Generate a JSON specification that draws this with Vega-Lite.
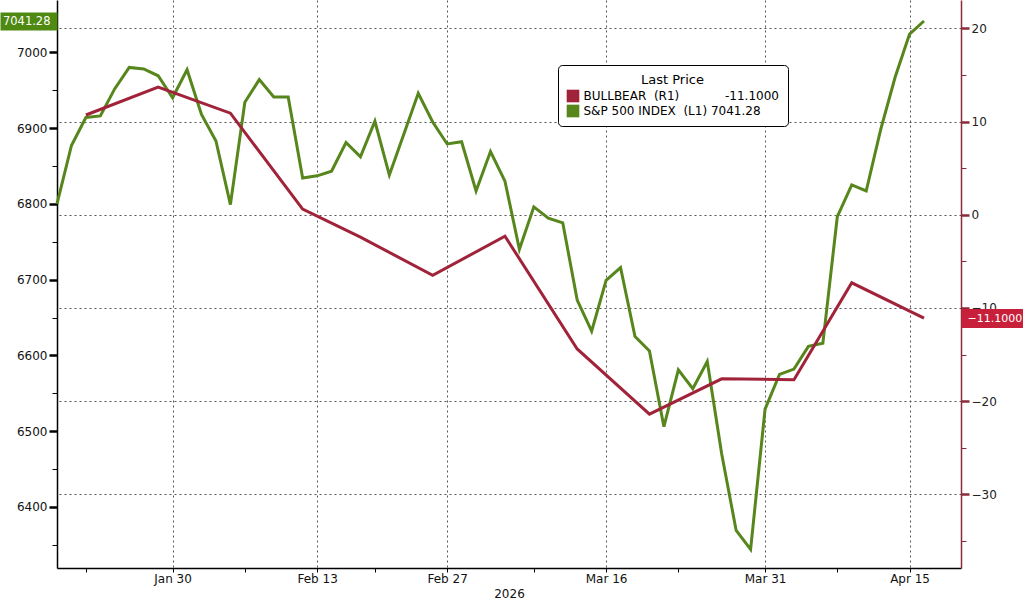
{
  "$schema": "https://vega.github.io/schema/vega-lite/v6.json",
  "width": 904,
  "height": 568,
  "autosize": {"type": "none"},
  "padding": {"left": 57, "top": 0, "right": 62, "bottom": 34},
  "background": "white",
  "config": {
    "view": {"stroke": null},
    "font": "DejaVu Sans",
    "axis": {"labelFont": "DejaVu Sans", "labelFontSize": 12, "titleFont": "DejaVu Sans", "labelOverlap": false, "labelBound": false}
  },
  "datasets": {
    "spx": [
      {"date": "2026-01-20", "close": 6800},
      {"date": "2026-01-21", "close": 6877},
      {"date": "2026-01-22", "close": 6914},
      {"date": "2026-01-23", "close": 6916},
      {"date": "2026-01-26", "close": 6952},
      {"date": "2026-01-27", "close": 6980},
      {"date": "2026-01-28", "close": 6978},
      {"date": "2026-01-29", "close": 6969},
      {"date": "2026-01-30", "close": 6940},
      {"date": "2026-02-02", "close": 6977},
      {"date": "2026-02-03", "close": 6918},
      {"date": "2026-02-04", "close": 6883},
      {"date": "2026-02-05", "close": 6799},
      {"date": "2026-02-06", "close": 6934},
      {"date": "2026-02-09", "close": 6964},
      {"date": "2026-02-10", "close": 6941},
      {"date": "2026-02-11", "close": 6941},
      {"date": "2026-02-12", "close": 6834},
      {"date": "2026-02-13", "close": 6837},
      {"date": "2026-02-17", "close": 6843},
      {"date": "2026-02-18", "close": 6881},
      {"date": "2026-02-19", "close": 6862},
      {"date": "2026-02-20", "close": 6909},
      {"date": "2026-02-23", "close": 6838},
      {"date": "2026-02-24", "close": 6892},
      {"date": "2026-02-25", "close": 6946},
      {"date": "2026-02-26", "close": 6908},
      {"date": "2026-02-27", "close": 6879},
      {"date": "2026-03-02", "close": 6882},
      {"date": "2026-03-03", "close": 6817},
      {"date": "2026-03-04", "close": 6869},
      {"date": "2026-03-05", "close": 6830},
      {"date": "2026-03-06", "close": 6740},
      {"date": "2026-03-09", "close": 6796},
      {"date": "2026-03-10", "close": 6781},
      {"date": "2026-03-11", "close": 6775},
      {"date": "2026-03-12", "close": 6673},
      {"date": "2026-03-13", "close": 6632},
      {"date": "2026-03-16", "close": 6699},
      {"date": "2026-03-17", "close": 6716},
      {"date": "2026-03-18", "close": 6625},
      {"date": "2026-03-19", "close": 6606},
      {"date": "2026-03-20", "close": 6506},
      {"date": "2026-03-23", "close": 6581},
      {"date": "2026-03-24", "close": 6556},
      {"date": "2026-03-25", "close": 6592},
      {"date": "2026-03-26", "close": 6470},
      {"date": "2026-03-27", "close": 6369},
      {"date": "2026-03-30", "close": 6344},
      {"date": "2026-03-31", "close": 6529},
      {"date": "2026-04-01", "close": 6575},
      {"date": "2026-04-02", "close": 6582},
      {"date": "2026-04-06", "close": 6612},
      {"date": "2026-04-07", "close": 6616},
      {"date": "2026-04-08", "close": 6783},
      {"date": "2026-04-09", "close": 6825},
      {"date": "2026-04-10", "close": 6817},
      {"date": "2026-04-13", "close": 6898},
      {"date": "2026-04-14", "close": 6967},
      {"date": "2026-04-15", "close": 7024},
      {"date": "2026-04-16", "close": 7041.28}
    ],
    "bull": [
      {"date": "2026-01-22", "spread": 10.7},
      {"date": "2026-01-29", "spread": 13.7},
      {"date": "2026-02-05", "spread": 10.9},
      {"date": "2026-02-12", "spread": 0.6},
      {"date": "2026-02-19", "spread": -2.4},
      {"date": "2026-02-26", "spread": -6.5},
      {"date": "2026-03-05", "spread": -2.3},
      {"date": "2026-03-12", "spread": -14.4},
      {"date": "2026-03-19", "spread": -21.4},
      {"date": "2026-03-26", "spread": -17.6},
      {"date": "2026-04-02", "spread": -17.7},
      {"date": "2026-04-09", "spread": -7.3},
      {"date": "2026-04-16", "spread": -11.1}
    ]
  },
  "encoding": {
    "x": {
      "field": "date",
      "type": "ordinal",
      "scale": {"type": "point", "domain": {"unionWith": ["2026-04-17"]}, "padding": 0.78, "align": 0},
      "axis": {
        "title": "2026",
        "titleFontSize": 12,
        "titleFontWeight": "normal",
        "titleColor": "#111",
        "titlePadding": 4,
        "values": ["2026-01-22", "2026-01-30", "2026-02-06", "2026-02-13", "2026-02-20", "2026-02-27", "2026-03-09", "2026-03-16", "2026-03-23", "2026-03-31", "2026-04-08", "2026-04-15"],
        "labelExpr": "indexof(['2026-01-30','2026-02-13','2026-02-27','2026-03-16','2026-03-31','2026-04-15'], datum.value) >= 0 ? utcFormat(toDate(datum.value), '%b %d') : ''",
        "labelAngle": 0,
        "labelColor": "#111",
        "labelPadding": 1,
        "domainColor": "#000",
        "domainWidth": 1.5,
        "tickColor": "#000",
        "tickSize": 4,
        "grid": true,
        "gridColor": "#555",
        "gridDash": [2, 3],
        "gridOpacity": {"condition": {"test": "indexof(['2026-01-30','2026-02-13','2026-02-27','2026-03-16','2026-03-31','2026-04-15'], datum.value) >= 0", "value": 1}, "value": 0}
      }
    }
  },
  "layer": [
    {
      "data": {"name": "spx"},
      "mark": {"type": "line", "strokeWidth": 3},
      "encoding": {
        "y": {
          "field": "close",
          "type": "quantitative",
          "scale": {"domain": [6319.5, 7069], "nice": false, "zero": false},
          "axis": {
            "orient": "left",
            "title": null,
            "values": [6350, 6400, 6450, 6500, 6550, 6600, 6650, 6700, 6750, 6800, 6850, 6900, 6950, 7000, 7050],
            "format": "d",
            "labelExpr": "datum.value % 100 === 0 ? datum.label : ''",
            "labelColor": "#111",
            "labelPadding": 2,
            "grid": false,
            "domainColor": "#000",
            "domainWidth": 1.5,
            "tickColor": "#000",
            "tickSize": {"condition": {"test": "datum.value % 100 === 0", "value": 8}, "value": 5},
            "tickWidth": {"condition": {"test": "datum.value % 100 === 0", "value": 2.5}, "value": 1}
          }
        },
        "color": {
          "datum": "S&P 500 INDEX (L1)",
          "scale": {"domain": ["BULLBEAR (R1)", "S&P 500 INDEX (L1)"], "range": ["#a02339", "#56861c"]},
          "legend": {
            "orient": "none",
            "legendX": 501,
            "legendY": 65,
            "title": "Last Price",
            "titleAnchor": "middle",
            "titleFontWeight": "normal",
            "titleFontSize": 13,
            "titleColor": "#000",
            "titlePadding": 3,
            "padding": 8.5,
            "fillColor": "white",
            "strokeColor": "#000",
            "cornerRadius": 4,
            "symbolType": "square",
            "symbolSize": 160,
            "symbolStrokeWidth": 0,
            "labelFontSize": 12,
            "labelColor": "#000",
            "labelLimit": 400,
            "labelOffset": 4,
            "rowPadding": 2,
            "labelExpr": "datum.label == 'BULLBEAR (R1)' ? 'BULLBEAR\u00a0\u00a0(R1)\u00a0\u00a0\u00a0\u00a0\u00a0\u00a0\u00a0\u00a0\u00a0\u00a0\u00a0\u00a0-11.1000' : 'S&P\u00a0500\u00a0INDEX\u00a0\u00a0(L1)\u00a07041.28'",
            "encode": {"symbols": {"update": {"fill": {"scale": "color", "field": "value"}, "stroke": {"value": "transparent"}}}}
          }
        }
      }
    },
    {
      "data": {"name": "bull"},
      "mark": {"type": "line", "strokeWidth": 3},
      "encoding": {
        "y": {
          "field": "spread",
          "type": "quantitative",
          "scale": {"domain": [-37.9, 23.04], "nice": false, "zero": false},
          "axis": {
            "orient": "right",
            "title": null,
            "values": [-35, -30, -25, -20, -15, -10, -5, 0, 5, 10, 15, 20],
            "format": "d",
            "labelExpr": "datum.value % 10 === 0 ? datum.label : ''",
            "labelColor": "#222",
            "labelPadding": 2,
            "domainColor": "#8a2a3a",
            "domainWidth": 1.5,
            "tickColor": "#8a2a3a",
            "tickSize": {"condition": {"test": "datum.value % 10 === 0", "value": 8}, "value": 5},
            "tickWidth": {"condition": {"test": "datum.value % 10 === 0", "value": 2.5}, "value": 1},
            "grid": true,
            "gridColor": "#555",
            "gridDash": [2, 3],
            "gridOpacity": {"condition": {"test": "datum.value % 10 === 0", "value": 1}, "value": 0}
          }
        },
        "color": {"datum": "BULLBEAR (R1)"}
      }
    },
    {
      "data": {"name": "spx"},
      "mark": {"type": "line", "strokeOpacity": 0},
      "encoding": {
        "y": {
          "field": "close",
          "type": "quantitative",
          "scale": {"domain": [6319.5, 7069], "nice": false, "zero": false},
          "axis": {
            "orient": "left",
            "title": null,
            "values": [7041.28],
            "format": ".2f",
            "domain": false,
            "grid": false,
            "tickColor": "#4e8a12",
            "tickSize": 57,
            "tickWidth": 18,
            "tickCap": "butt",
            "labelColor": "white",
            "labelFontSize": 11.5,
            "labelPadding": -50,
            "zindex": 2
          }
        }
      }
    },
    {
      "data": {"name": "bull"},
      "mark": {"type": "line", "strokeOpacity": 0},
      "encoding": {
        "y": {
          "field": "spread",
          "type": "quantitative",
          "scale": {"domain": [-37.9, 23.04], "nice": false, "zero": false},
          "axis": {
            "orient": "right",
            "title": null,
            "values": [-11.1],
            "format": ".4f",
            "domain": false,
            "grid": false,
            "tickColor": "#c8203a",
            "tickSize": 62,
            "tickWidth": 19,
            "tickCap": "butt",
            "labelColor": "white",
            "labelFontSize": 11,
            "labelPadding": -56,
            "zindex": 2
          }
        }
      }
    }
  ],
  "resolve": {"scale": {"y": "independent"}, "axis": {"y": "independent"}}
}
